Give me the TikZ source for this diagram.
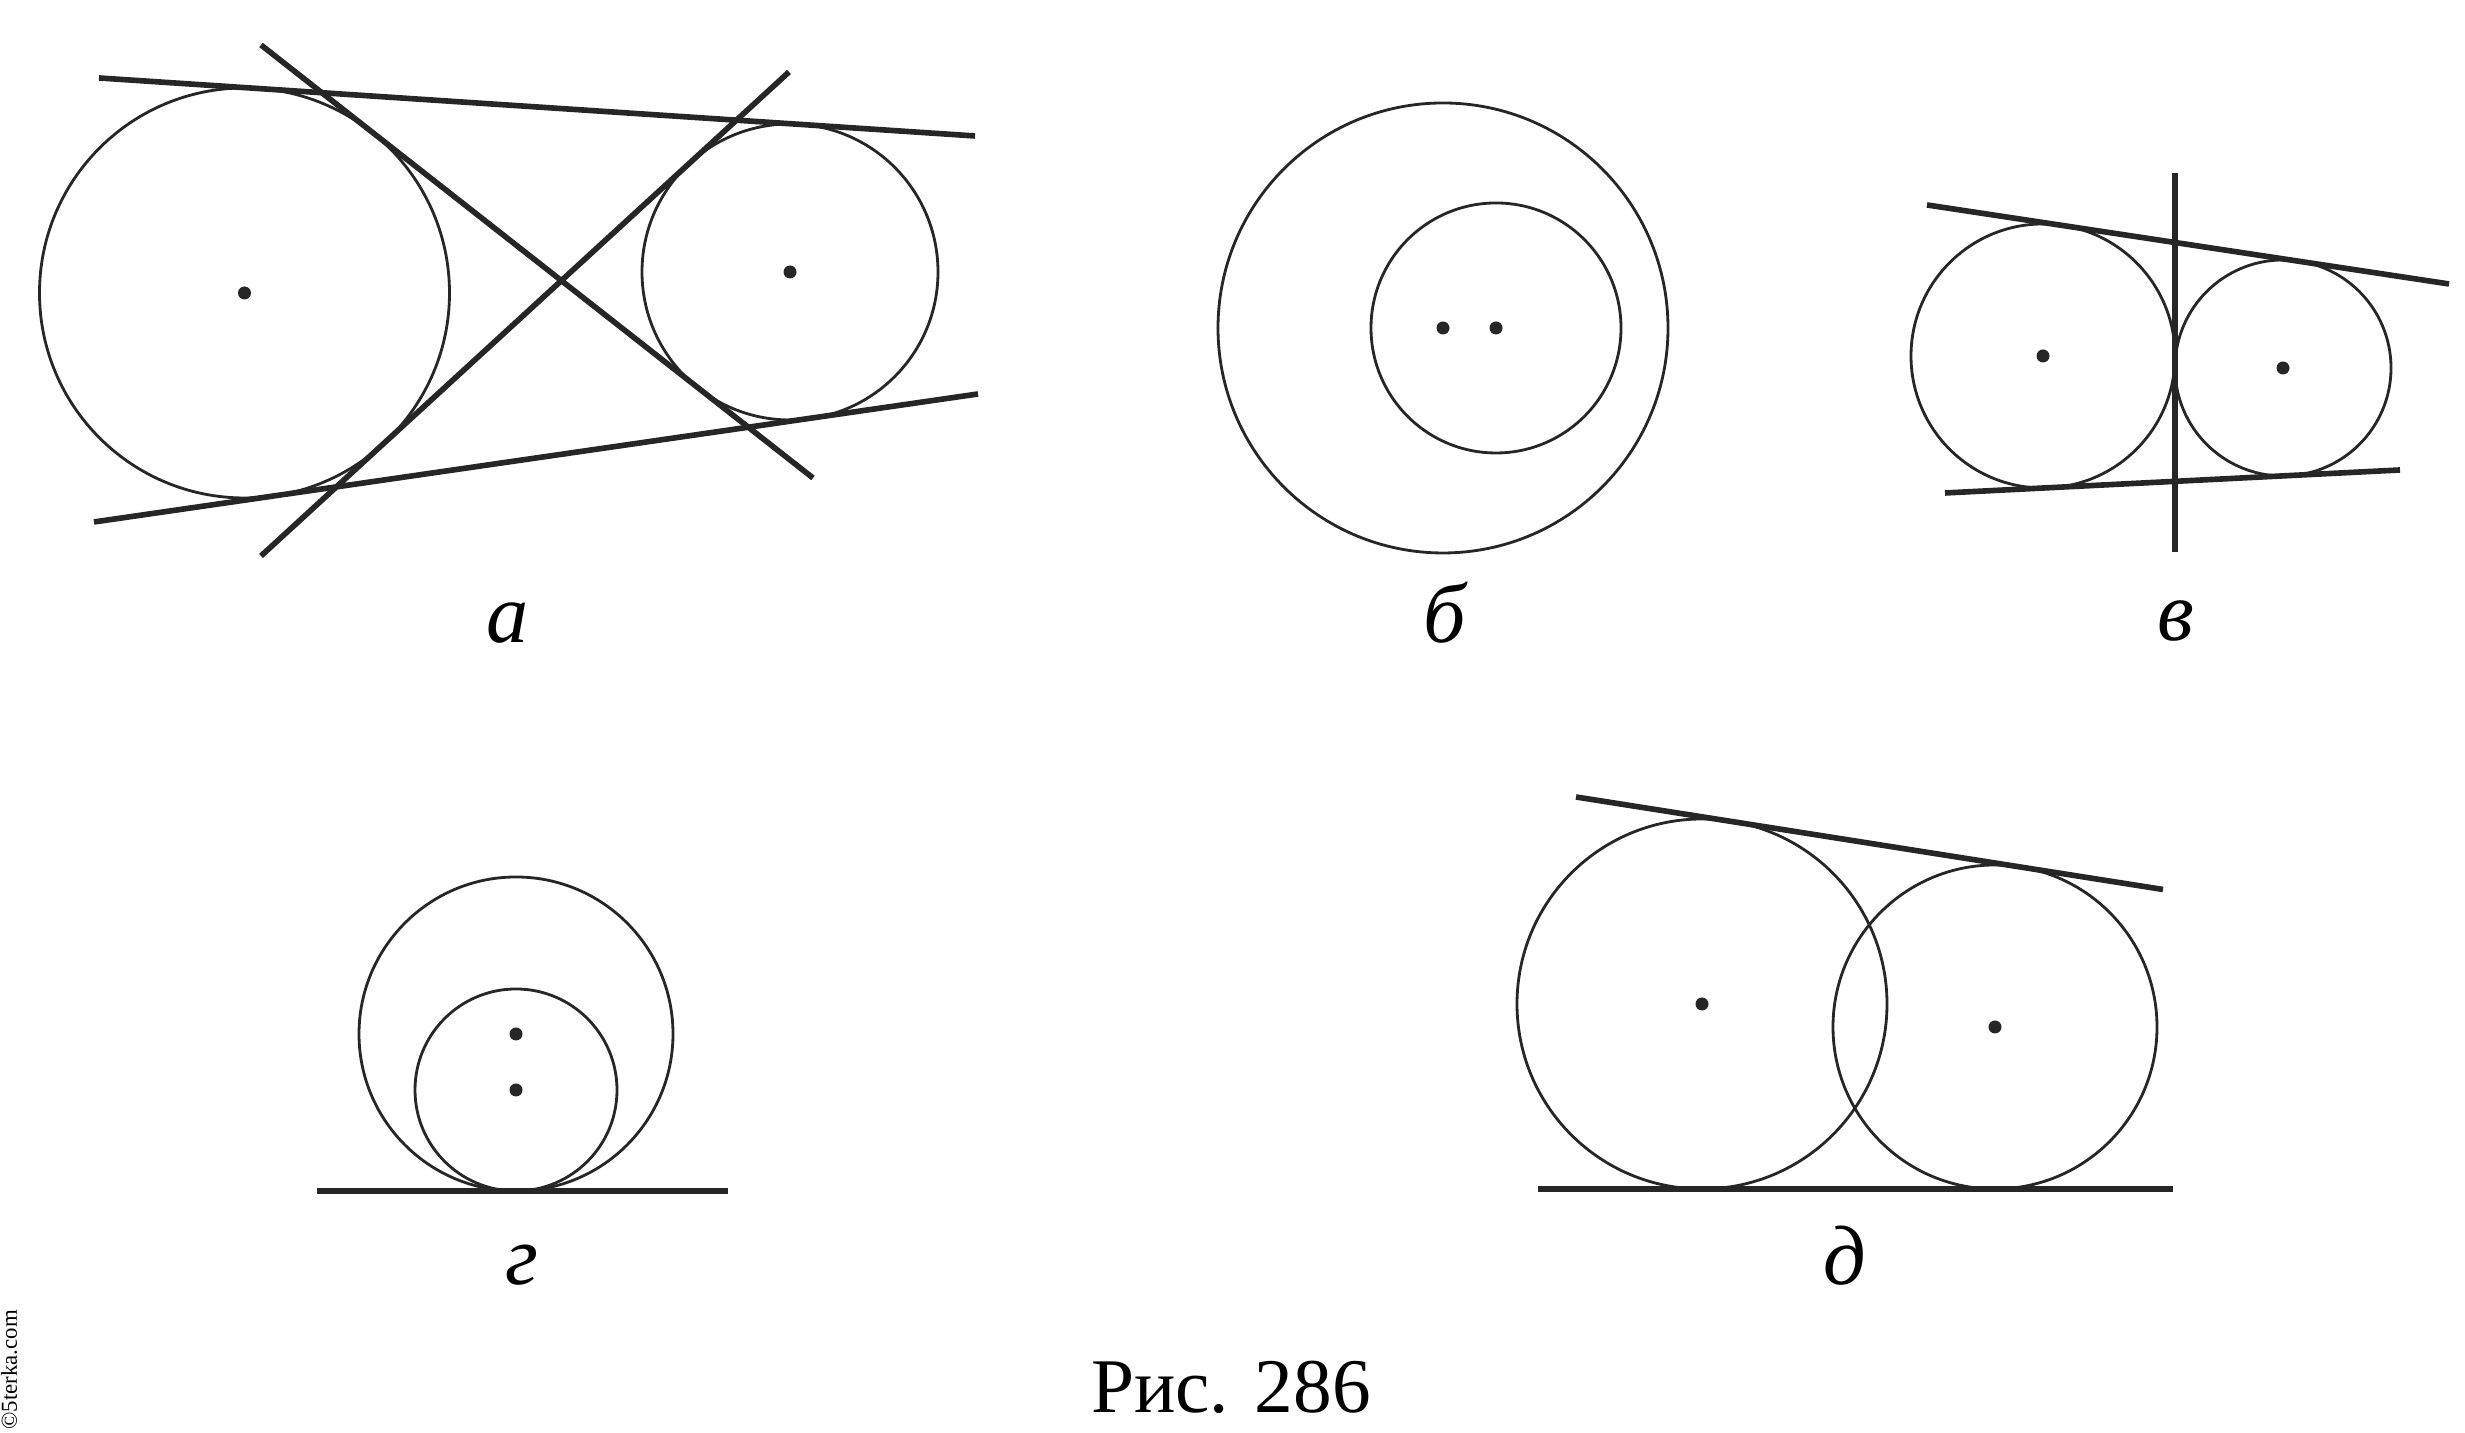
\documentclass[tikz,border=0pt]{standalone}
\usepackage{fontspec}
\setmainfont{Liberation Serif}
\begin{document}
\begin{tikzpicture}[circ/.style={line width=0.8pt,black!85},
    tang/.style={line width=1.6pt,black!85},
    dot/.style={fill,black!85},
    lbl/.style={anchor=base,font=\fontsize{24}{28}\selectfont\itshape}]
\useasboundingbox (0,0) rectangle (24.65,14.33);

% a: two circles, four common tangents
\coordinate (a1) at (2.445,11.40);
\coordinate (a2) at (7.90,11.61);
\draw [circ] (a1) circle (2.05);
\draw [circ] (a2) circle (1.48);
\draw [tang] (0.99,13.55) -- (9.75,12.97);
\draw [tang] (0.94,9.11) -- (9.78,10.39);
\draw [tang] (2.61,13.88) -- (8.13,9.55);
\draw [tang] (2.61,8.77) -- (7.89,13.61);
\fill [dot] (a1) circle (0.065);
\fill [dot] (a2) circle (0.065);
\node [lbl] (la) at (5.08,7.90) {а};

% b: one circle inside the other
\coordinate (b1) at (14.43,11.05);
\coordinate (b2) at (14.96,11.05);
\draw [circ] (b1) circle (2.25);
\draw [circ] (b2) circle (1.25);
\fill [dot] (b1) circle (0.065);
\fill [dot] (b2) circle (0.065);
\node [lbl] (lb) at (14.45,7.90) {б};

% v: circles touching from outside
\coordinate (v1) at (20.43,10.77);
\coordinate (v2) at (22.83,10.65);
\draw [circ] (v1) circle (1.32);
\draw [circ] (v2) circle (1.08);
\draw [tang] (21.75,8.81) -- (21.75,12.60);
\draw [tang] (19.27,12.28) -- (24.49,11.49);
\draw [tang] (19.45,9.40) -- (24.00,9.63);
\fill [dot] (v1) circle (0.065);
\fill [dot] (v2) circle (0.065);
\node [lbl] (lv) at (21.76,7.92) {в};

% g: circles touching from inside
\coordinate (g1) at (5.16,3.99);
\coordinate (g2) at (5.16,3.43);
\draw [circ] (g1) circle (1.57);
\draw [circ] (g2) circle (1.01);
\draw [tang] (3.17,2.42) -- (7.28,2.42);
\fill [dot] (g1) circle (0.065);
\fill [dot] (g2) circle (0.065);
\node [lbl] (lg) at (5.22,1.48) {г};

% d: intersecting circles
\coordinate (d1) at (17.02,4.29);
\coordinate (d2) at (19.95,4.06);
\draw [circ] (d1) circle (1.85);
\draw [circ] (d2) circle (1.62);
\draw [tang] (15.38,2.44) -- (21.73,2.44);
\draw [tang] (15.76,6.36) -- (21.63,5.435);
\fill [dot] (d1) circle (0.065);
\fill [dot] (d2) circle (0.065);
\node [lbl] (ld) at (18.45,1.48) {д};

% caption
\node [anchor=base,font=\fontsize{22}{26}\selectfont] (cap) at (12.31,0.20) {Рис. 286};
\node [rotate=90,font=\fontsize{6.5}{8}\selectfont] (wm) at (0.09,0.63) {©5terka.com};

\end{tikzpicture}
\end{document}
